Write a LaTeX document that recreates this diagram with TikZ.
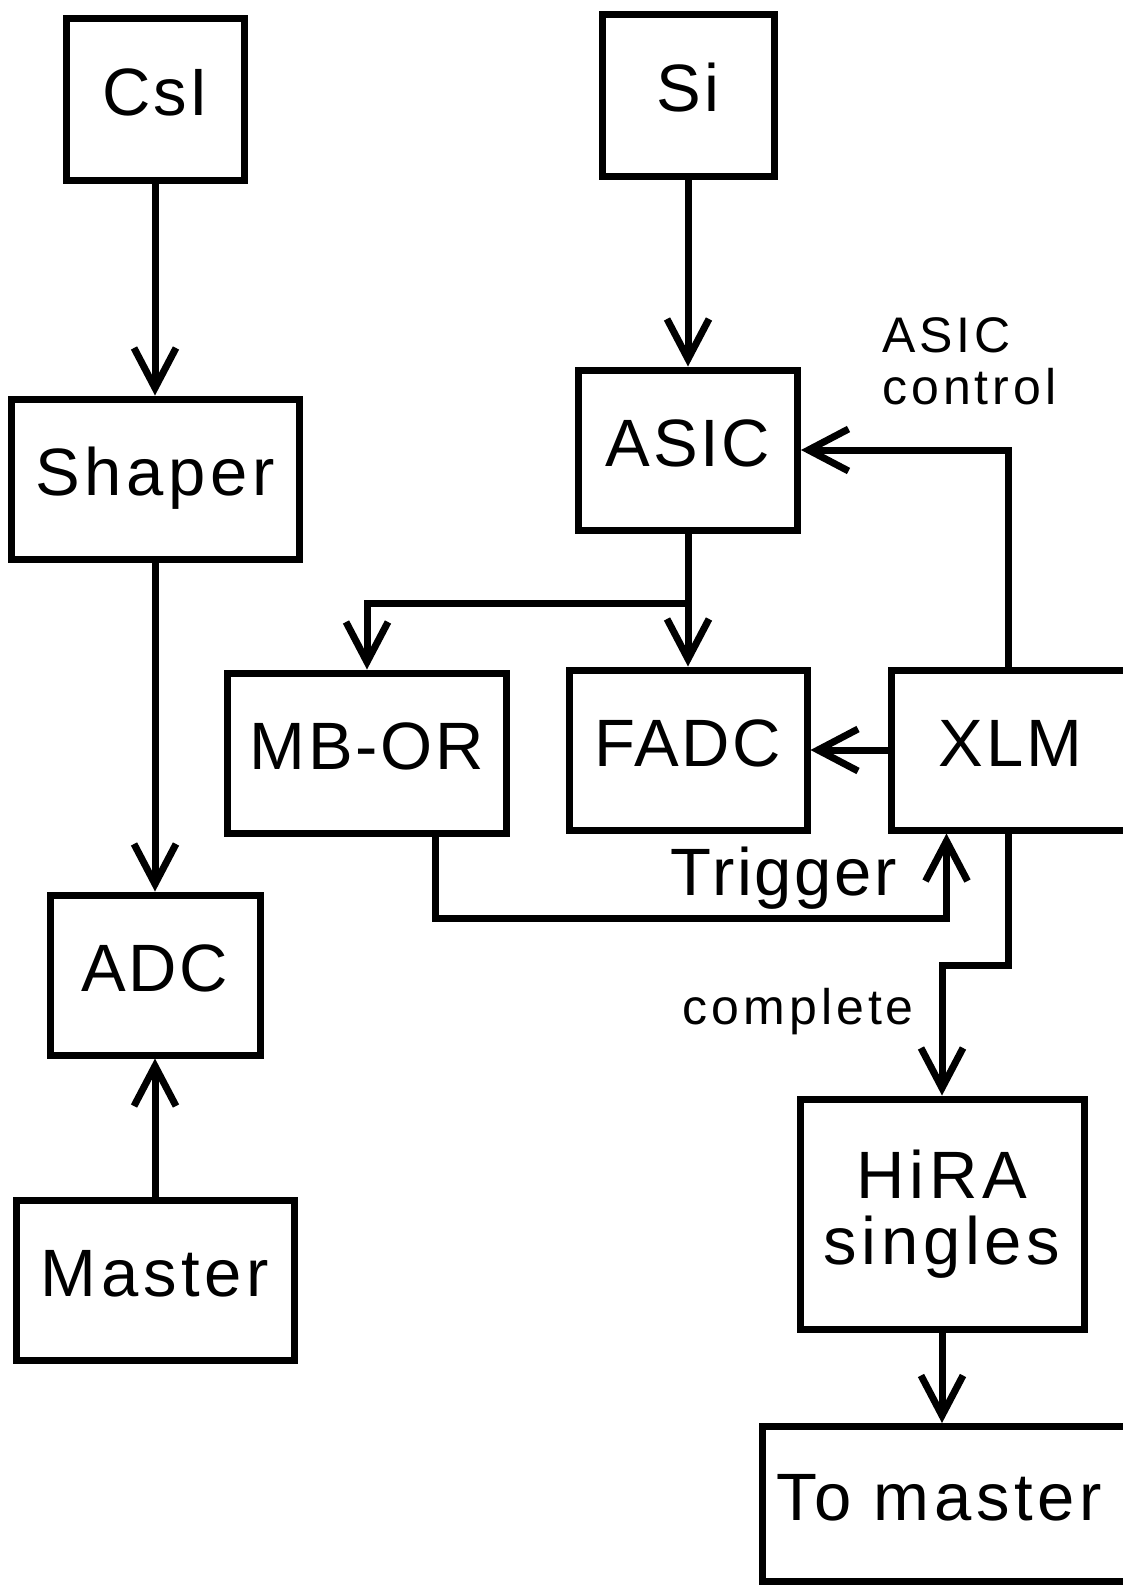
\documentclass[tikz,border=0pt]{standalone}
\usepackage{fontspec}
\setmainfont{Liberation Sans}
\newfontfamily\bigfont{Liberation Sans}[LetterSpace=4]
\newfontfamily\widefont{Liberation Sans}[LetterSpace=7]
\newfontfamily\smallfont{Liberation Sans}[LetterSpace=8]
\usetikzlibrary{arrows.meta,calc}
\begin{document}
\begin{tikzpicture}[x=1pt,y=-1pt,
  box/.style={draw, line width=7pt, inner sep=0pt, outer sep=3.5pt,
    font=\bigfont\fontsize{67}{66}\selectfont, text height=50pt, text depth=17pt},
  widebox/.style={box, font=\widefont\fontsize{67}{66}\selectfont},
  tallbox/.style={draw, line width=7pt, inner sep=0pt, outer sep=3.5pt, align=center,
    font=\widefont\fontsize{67}{66}\selectfont},
  conn/.style={line width=7pt, -{Straight Barb[length=40pt, width=42pt]}},
  lbl/.style={inner sep=0pt, font=\bigfont\fontsize{67}{66}\selectfont},
  smalllbl/.style={inner sep=0pt, align=left, font=\smallfont\fontsize{50}{52}\selectfont}]
\useasboundingbox (0,0) rectangle (1123,1585);
\clip (0,0) rectangle (1123,1585);
\fill[white] (0,0) rectangle (1123,1585);

% left column
\node[box, minimum width=178pt, minimum height=162pt] (csi) at (155,99) {CsI};
\node[widebox, minimum width=288pt, minimum height=160pt] (shaper) at (155,479) {Shaper};
\node[box, minimum width=210pt, minimum height=160pt] (adc) at (155,975) {ADC};
\node[widebox, minimum width=278pt, minimum height=160pt] (master) at (155,1280) {Master};

% right part
\node[box, minimum width=172pt, minimum height=162pt] (si) at (688,95) {Si};
\node[box, minimum width=219pt, minimum height=160pt] (asic) at (688,450) {ASIC};
\node[box, minimum width=279pt, minimum height=160pt] (mbor) at (367,753) {MB-OR};
\node[box, minimum width=238pt, minimum height=160pt] (fadc) at (688,750) {FADC};
\node[box, minimum width=239pt, minimum height=160pt] (xlm) at (1010.5,750) {XLM};
\node[tallbox, minimum width=284pt, minimum height=230pt] (hira) at (942,1214) {HiRA\\singles};
\node[widebox, minimum width=370pt, minimum height=155pt, text width=360pt, align=left] (tomaster) at (947,1504) {\hspace*{9pt}To master};

% labels
\node[smalllbl, anchor=base west] (asicctl) at (882,404) {ASIC\\control};
\node[lbl, anchor=base east] (trig) at (897,895) {Trigger};
\node[smalllbl, anchor=base east] (compl) at (914,1024) {complete};

% connectors
\draw[conn] (csi.south) -- (shaper.north);
\draw[conn] (shaper.south) -- (adc.north);
\draw[conn] (master.north) -- (adc.south);
\draw[conn] (si.south) -- (asic.north);
\draw[conn] (asic.south) -- (fadc.north);

\coordinate (branch) at (688,603);
\draw[conn] (branch) -| (mbor.north);

\coordinate (xtop) at ([xshift=-2.5pt]xlm.north);
\coordinate (xbot) at ([xshift=-2.5pt]xlm.south);
\draw[conn] (xtop) |- (asic.east);
\draw[conn] (xlm.west) -- (fadc.east);

\coordinate (mbo) at ([xshift=68pt]mbor.south);
\coordinate (xli) at ([xshift=59pt]xlm.south west);
\coordinate (trigy) at (0,918);
\draw[conn] (mbo) -- (mbo |- trigy) -- (xli |- trigy) -- (xli);

\coordinate (comy) at (0,965);
\draw[conn] (xbot) -- (xbot |- comy) -| (hira.north);

\draw[conn] (hira.south) -- (tomaster.north -| hira.south);
\end{tikzpicture}
\end{document}
